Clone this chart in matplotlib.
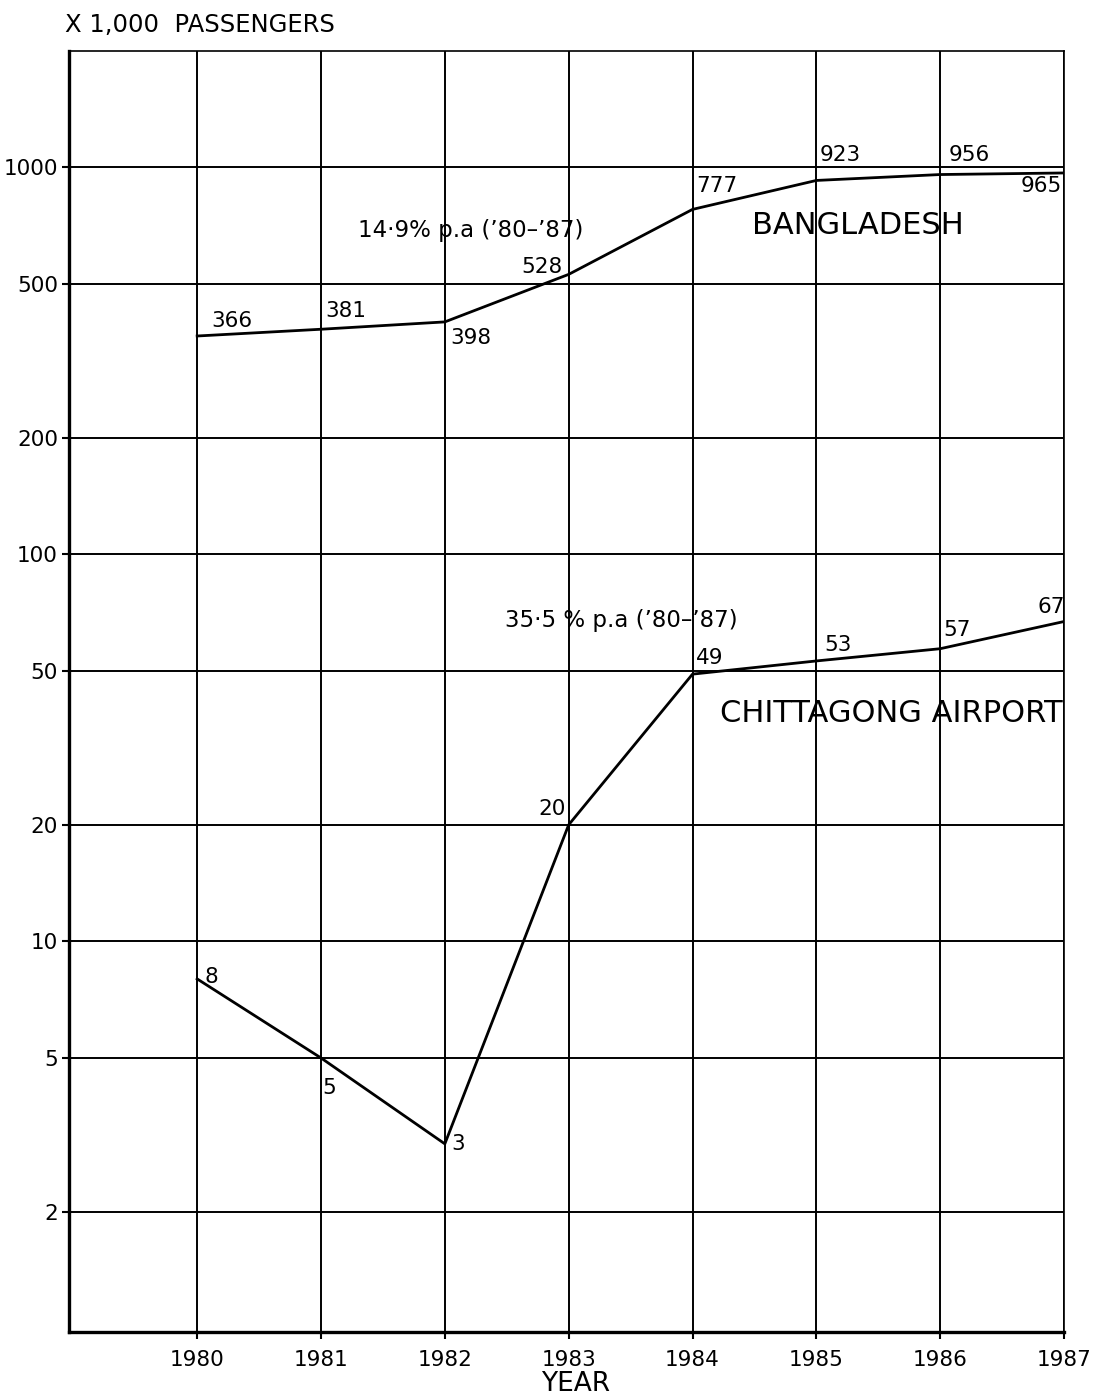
import matplotlib
matplotlib.use('Agg')
import matplotlib.pyplot as plt
from matplotlib import font_manager

# passengers (x 1,000) per year
years = [1980, 1981, 1982, 1983, 1984, 1985, 1986, 1987]
bangladesh = [366, 381, 398, 528, 777, 923, 956, 965]
chittagong = [8, 5, 3, 20, 49, 53, 57, 67]

y_ticks = [2, 5, 10, 20, 50, 100, 200, 500, 1000]
y_ticklabels = ['2', '5', '10', '20', '50', '100', '200', '500', '1000']

# label offsets (pixels) from each point
bd_offsets = [(35, 15), (25, 18), (26, -16), (-27, 7), (24, 23), (24, 25), (29, 20), (-23, -13)]
ct_offsets = [(14, 2), (8, -30), (13, 0), (-17, 16), (17, 16), (22, 16), (17, 19), (-13, 15)]

names = {f.name for f in font_manager.fontManager.ttflist}
if 'Liberation Sans Narrow' in names:
    family = 'Liberation Sans Narrow'
    sz = dict(tick=20, label=20, title=17, year=18, note=20, name=25)
else:
    family = 'DejaVu Sans'
    sz = dict(tick=15.5, label=15.5, title=17.5, year=19, note=16.5, name=22)
plt.rcParams['font.family'] = [family, 'DejaVu Sans']

W, H = 1100, 1397
fig = plt.figure(figsize=(W / 100, H / 100), dpi=100)
ax = fig.add_axes([69 / W, 1 - 1332 / H, (1064 - 69) / W, (1332 - 51) / H])

ax.set_yscale('log')
ax.set_xlim(1978.965, 1987.0)
ax.set_ylim(0.98, 1993)

ax.set_yticks(y_ticks)
ax.set_yticklabels(y_ticklabels, fontsize=sz['tick'])
ax.yaxis.set_minor_locator(matplotlib.ticker.NullLocator())
ax.set_xticks(years)
ax.set_xticklabels([str(y) for y in years], fontsize=sz['tick'])
ax.tick_params(axis='both', length=5, width=1.5, color='black', pad=3)
ax.tick_params(axis='x', pad=8)

ax.grid(True, which='major', color='black', lw=1.4)
for side in ['left', 'bottom']:
    ax.spines[side].set_linewidth(2.4)
for side in ['top', 'right']:
    ax.spines[side].set_linewidth(1.2)

ax.plot(years, bangladesh, color='black', lw=2.0, zorder=3)
ax.plot(years, chittagong, color='black', lw=2.0, zorder=3)

for x, v, off in zip(years, bangladesh, bd_offsets):
    ax.annotate(str(v), (x, v), xytext=off, textcoords='offset pixels',
                ha='center', va='center', fontsize=sz['label'])
for x, v, off in zip(years, chittagong, ct_offsets):
    ax.annotate(str(v), (x, v), xytext=off, textcoords='offset pixels',
                ha='center', va='center', fontsize=sz['label'])

def px_text(x, y, s, size, **kw):
    fig.text(x / W, 1 - y / H, s, fontsize=size, **kw)

px_text(65, 25, 'X 1,000  PASSENGERS', sz['title'], ha='left', va='center')
px_text(576, 1384, 'YEAR', sz['year'], ha='center', va='center')
px_text(471, 231, '14·9% p.a (’80–’87)', sz['note'], ha='center', va='center')
px_text(621, 621, '35·5 % p.a (’80–’87)', sz['note'], ha='center', va='center')
px_text(858, 225, 'BANGLADESH', sz['name'], ha='center', va='center')
px_text(891, 713, 'CHITTAGONG AIRPORT', sz['name'], ha='center', va='center')

fig.savefig('out.png', dpi=100)
